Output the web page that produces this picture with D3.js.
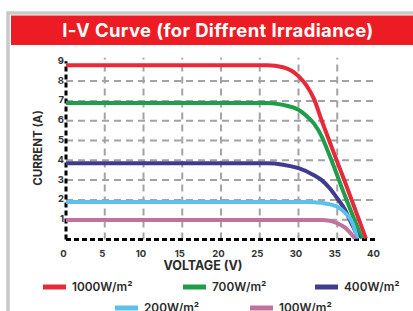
<!DOCTYPE html>
<html>
<head>
<meta charset="utf-8">
<script src="https://cdn.jsdelivr.net/npm/d3@7"></script>
<style>
    body { margin: 0; background: #fff; }
    svg { display: block; font-family: Inter, 'Open Sans', sans-serif; }
</style>
</head>
<body>
<svg id="chart" width="413" height="311"></svg>
<script>
// I-V curves, [voltage, current] per irradiance
const red1000 = [[0, 8.8], [26, 8.8], [28, 8.7], [30, 8.25], [31, 7.8], [32, 7.1], [33, 6.0], [34, 4.95], [36, 2.9], [38.7, 0.05]];
const green700 = [[0, 6.9], [26, 6.9], [28, 6.8], [30, 6.55], [31, 6.25], [32, 5.85], [33, 5.2], [34, 4.25], [36, 2.2], [38.2, 0.05]];
const purple400 = [[0, 3.85], [26, 3.85], [28, 3.78], [30, 3.6], [32, 3.25], [33, 3.0], [34, 2.6], [35, 2.08], [36, 1.5], [36.6, 1.0], [37.8, 0.05]];
const blue200 = [[0, 1.9], [31, 1.9], [33, 1.85], [35, 1.66], [36, 1.35], [37, 0.8], [37.6, 0.05]];
const pink100 = [[0, 0.98], [33, 0.98], [34, 0.95], [35, 0.82], [36, 0.6], [37.3, 0.05]];

const seriesNames = ['1000W/m²', '700W/m²', '400W/m²', '200W/m²', '100W/m²'];
const seriesData = [red1000, green700, purple400, blue200, pink100];
const seriesColors = ['#e8293a', '#1f9d4a', '#3f3b8f', '#5bc1ec', '#c0719c'];

const xTicks = [0, 5, 10, 15, 20, 25, 30, 35, 40];
const yTicks = [0, 1, 2, 3, 4, 5, 6, 7, 8, 9];

const svg = d3.select('#chart');

// frame + title bar
svg.append('rect').attr('x', 8).attr('y', 13).attr('width', 420).attr('height', 310)
    .attr('fill', 'none').attr('stroke', '#c9c9c9').attr('stroke-width', 3.5);
svg.append('rect').attr('x', 11).attr('y', 15.5).attr('width', 410).attr('height', 29.5)
    .attr('fill', '#ed1c24');
svg.append('text').attr('x', 218).attr('y', 37)
    .attr('text-anchor', 'middle').attr('fill', '#fff')
    .attr('font-size', 18.5).attr('font-weight', 700).attr('letter-spacing', 0.35)
    .text('I-V Curve (for Diffrent Irradiance)');

const x = d3.scaleLinear().domain([0, 40]).range([66, 376]);
const y = d3.scaleLinear().domain([0, 9]).range([239.5, 61.3]);

// grid
const grid = svg.append('g').attr('stroke', '#a3a3a3').attr('stroke-width', 2)
    .attr('stroke-dasharray', '7,5');
grid.selectAll('line.h').data(yTicks.filter(d => d > 0 && d < 9)).enter().append('line')
    .attr('class', 'h')
    .attr('x1', x(0)).attr('x2', x(40))
    .attr('y1', d => y(d)).attr('y2', d => y(d));
grid.selectAll('line.v').data(xTicks.filter(d => d > 0 && d < 40)).enter().append('line')
    .attr('class', 'v')
    .attr('x1', d => x(d)).attr('x2', d => x(d))
    .attr('y1', y(0)).attr('y2', y(9.18));

// axes (black dashed)
svg.append('line').attr('x1', x(0)).attr('x2', x(0)).attr('y1', y(0)).attr('y2', y(9))
    .attr('stroke', '#000').attr('stroke-width', 3).attr('stroke-dasharray', '5,3');
svg.append('line').attr('x1', x(0)).attr('x2', x(40)).attr('y1', y(0)).attr('y2', y(0))
    .attr('stroke', '#000').attr('stroke-width', 3).attr('stroke-dasharray', '5,3');

// curves
const line = d3.line()
    .x(d => x(d[0]))
    .y(d => y(d[1]))
    .curve(d3.curveMonotoneX);
svg.append('g').selectAll('path').data(seriesData).enter().append('path')
    .attr('d', line)
    .attr('fill', 'none')
    .attr('stroke', (d, i) => seriesColors[i])
    .attr('stroke-width', 4)
    .attr('stroke-linecap', 'butt');

// tick labels
const xAxis = d3.axisBottom(x).tickValues(xTicks).tickSize(0).tickPadding(0);
const gx = svg.append('g').attr('transform', 'translate(-3,' + (y(0) + 11) + ')').call(xAxis);
gx.select('.domain').remove();
gx.selectAll('text').attr('font-size', 9.5).attr('font-weight', 700).attr('fill', '#333')
    .attr('font-family', 'Inter, sans-serif');

const yAxis = d3.axisLeft(y).tickValues(yTicks.filter(d => d > 0)).tickSize(0).tickPadding(0);
const gy = svg.append('g').attr('transform', 'translate(' + (x(0) - 2) + ',-1)').call(yAxis);
gy.select('.domain').remove();
gy.selectAll('text').attr('font-size', 9.5).attr('font-weight', 700).attr('fill', '#333')
    .attr('font-family', 'Inter, sans-serif');

// axis titles
svg.append('text').attr('x', 203).attr('y', 270).attr('text-anchor', 'middle')
    .attr('font-size', 12.5).attr('font-weight', 700).attr('fill', '#2b2b2b')
    .text('VOLTAGE (V)');
svg.append('text').attr('transform', 'translate(42,148) rotate(-90)').attr('text-anchor', 'middle')
    .attr('font-size', 11.5).attr('font-weight', 700).attr('fill', '#2b2b2b')
    .text('CURRENT (A)');

// legend
const legendPos = [[43, 287], [183, 287], [315, 287], [115, 308], [250, 308]];
const legend = svg.append('g').selectAll('g').data(seriesNames).enter().append('g')
    .attr('transform', (d, i) => 'translate(' + legendPos[i][0] + ',' + legendPos[i][1] + ')');
legend.append('rect').attr('x', 0).attr('y', -2.5).attr('width', 23).attr('height', 5)
    .attr('fill', (d, i) => seriesColors[i]);
legend.append('text').attr('x', 29).attr('y', 4.2)
    .attr('font-size', 11.8).attr('font-weight', 600).attr('fill', '#2b2b2b')
    .text(d => d);
</script>
</body>
</html>
